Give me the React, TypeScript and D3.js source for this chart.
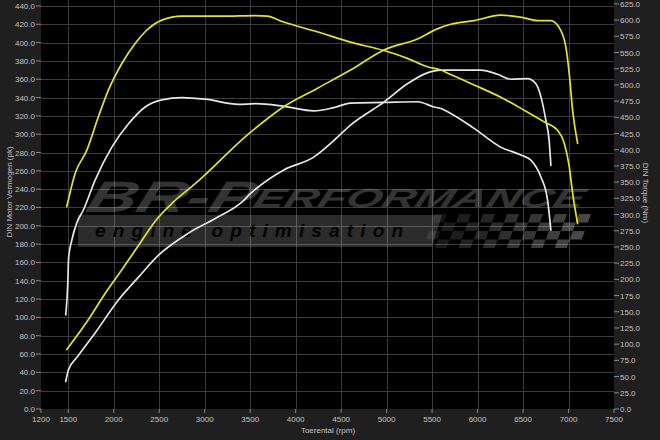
import React from 'react';
import * as d3 from 'd3';

const rpmTicks = [1200, 1500, 2000, 2500, 3000, 3500, 4000, 4500, 5000, 5500, 6000, 6500, 7000, 7500];
const powerTicks = d3.range(0, 441, 20);
const torqueTicks = d3.range(0, 626, 25);

// [rpm, pk]
const tunedPower: [number, number][] = [
  [1483, 65], [1703, 95], [1905, 126], [2089, 152], [2309, 184], [2456, 205], [2657, 226],
  [2896, 246], [3502, 302], [3869, 330], [4236, 350], [4603, 370], [4970, 392], [5338, 404],
  [5558, 415], [5705, 420], [5961, 424], [6255, 430], [6512, 427], [6660, 424], [6806, 424],
  [6916, 413], [6971, 395], [7008, 366], [7045, 326], [7100, 290],
];
const stockPower: [number, number][] = [
  [1472, 30], [1501, 42.5], [1600, 57], [1795, 83], [2051, 119], [2272, 144], [2492, 168],
  [2822, 192], [3116, 208], [3411, 226], [3502, 235], [3869, 261], [4199, 275], [4419, 293],
  [4603, 310], [4970, 335], [5228, 355], [5448, 367], [5595, 370], [5705, 370], [6035, 370],
  [6219, 365.5], [6366, 360], [6549, 360.7], [6641, 355], [6696, 341], [6751, 315], [6787, 293],
  [6806, 266],
];
// [rpm, Nm]
const tunedTorque: [number, number][] = [
  [1483, 312], [1574, 363], [1703, 399], [1831, 451], [1941, 492], [2089, 533], [2235, 564],
  [2345, 582], [2529, 600], [2750, 606], [3190, 606], [3557, 607], [3686, 606], [3869, 597],
  [4236, 582], [4603, 566], [4970, 553], [5228, 541], [5448, 528], [5595, 523], [5705, 516],
  [5961, 500], [6255, 481], [6512, 461], [6732, 443], [6880, 430], [6953, 410], [7008, 374],
  [7045, 333], [7100, 286],
];
const stockTorque: [number, number][] = [
  [1472, 145], [1497, 204], [1503, 232], [1538, 260], [1593, 287], [1666, 307], [1795, 353],
  [1979, 404], [2162, 440], [2345, 466], [2529, 477], [2750, 480.5], [3006, 478], [3373, 470],
  [3557, 471], [3869, 467], [4199, 460], [4419, 465], [4603, 472], [4970, 473], [5338, 474],
  [5521, 466], [5595, 463.5], [5705, 456], [5961, 433], [6255, 404], [6476, 392], [6586, 384],
  [6696, 358], [6770, 322], [6806, 276],
];

const FONT = '"Liberation Sans", Arial, sans-serif';
const TXT = '#c4c4c4';

export default function App() {
  const W = 660, H = 440, L = 41, R = 614, T = 0, B = 409;
  const x = d3.scaleLinear().domain([1200, 7500]).range([L, R]);
  const yP = d3.scaleLinear().domain([0, 446.5]).range([B, T]);
  const yT = d3.scaleLinear().domain([0, 631]).range([B, T]);
  const lineP = d3.line<[number, number]>().x(d => x(d[0])).y(d => yP(d[1])).curve(d3.curveMonotoneX);
  const lineT = d3.line<[number, number]>().x(d => x(d[0])).y(d => yT(d[1])).curve(d3.curveMonotoneX);

  // checkered flag decoration
  const checks: JSX.Element[] = [];
  const cols = 13, rows = 4, cw = 12, ch = 8.5;
  for (let r = 0; r < rows; r++) {
    for (let c = 0; c < cols; c++) {
      if ((r + c) % 2 === 0) {
        const op = 0.08 + 0.2 * (c / (cols - 1));
        checks.push(
          <rect key={`${r}-${c}`} x={c * cw} y={r * ch} width={cw} height={ch} fill="#fff" opacity={op} />
        );
      }
    }
  }

  const yellow = '#e4e42c';
  const white = '#e6e6e6';

  return (
    <svg width={W} height={H} style={{ position: 'absolute', left: 0, top: 0, display: 'block' }}>
      <rect x={0} y={0} width={W} height={H} fill="#1f1f1f" />
      <rect x={L} y={T} width={R - L} height={B - T} fill="#000" />
      {/* grid */}
      <g stroke="#3c3c3c" strokeWidth={1}>
        {rpmTicks.slice(1, -1).map(t => (
          <line key={t} x1={Math.round(x(t)) + 0.5} x2={Math.round(x(t)) + 0.5} y1={T} y2={B} />
        ))}
        {powerTicks.slice(1).map(t => (
          <line key={t} x1={L} x2={R} y1={Math.round(yP(t)) + 0.5} y2={Math.round(yP(t)) + 0.5} />
        ))}
      </g>
      {/* watermark */}
      <g>
        <g transform="translate(84,212) skewX(-18)">
          <text x={0} y={0} fontFamily={FONT} fontWeight={900} fontStyle="italic" fontSize={44}
            fill="#fff" opacity={0.2} textLength={168} lengthAdjust="spacingAndGlyphs">BR-P</text>
        </g>
        <g transform="translate(252,207) skewX(-18)">
          <text x={0} y={0} fontFamily={FONT} fontWeight={900} fontStyle="italic" fontSize={26}
            fill="#fff" opacity={0.2} textLength={330} lengthAdjust="spacingAndGlyphs">ERFORMANCE</text>
        </g>
        <polygon points="78,215 442,215 432,247 78,247" fill="#fff" opacity={0.17} />
        <g transform="translate(95,237)">
          <text x={0} y={0} fontFamily={FONT} fontWeight={700} fontStyle="italic" fontSize={19}
            fill="#000" opacity={0.9} textLength={308} lengthAdjust="spacing">engine optimisation</text>
        </g>
        <g transform="translate(435,214) skewX(-20)">{checks}</g>
      </g>
      {/* curves */}
      <g fill="none" strokeWidth={1.7} strokeLinejoin="round" strokeLinecap="round">
        <path d={lineT(stockTorque) || ''} stroke={white} />
        <path d={lineP(stockPower) || ''} stroke={white} />
        <path d={lineT(tunedTorque) || ''} stroke={yellow} />
        <path d={lineP(tunedPower) || ''} stroke={yellow} />
      </g>
      {/* left axis */}
      <g fontFamily={FONT} fontSize={8} fill={TXT}>
        {powerTicks.map(t => (
          <g key={t}>
            <line x1={36} x2={L} y1={yP(t)} y2={yP(t)} stroke="#8a8a8a" />
            <text x={35} y={yP(t) + 3} textAnchor="end">{d3.format('.1f')(t)}</text>
          </g>
        ))}
        {torqueTicks.map(t => (
          <g key={t}>
            <line x1={R} x2={R + 5} y1={yT(t)} y2={yT(t)} stroke="#8a8a8a" />
            <text x={R + 6} y={yT(t) + 3} textAnchor="start">{d3.format('.1f')(t)}</text>
          </g>
        ))}
        {rpmTicks.map(t => (
          <g key={t}>
            <line x1={x(t)} x2={x(t)} y1={B} y2={B + 4} stroke="#8a8a8a" />
            <text x={x(t)} y={422} textAnchor="middle">{t}</text>
          </g>
        ))}
        <text x={328} y={433} textAnchor="middle">Toerental (rpm)</text>
        <text transform="translate(12,192) rotate(-90)" textAnchor="middle">DIN Motor Vermogen (pk)</text>
        <text transform="translate(643,193) rotate(90)" textAnchor="middle">DIN Torque (Nm)</text>
      </g>
    </svg>
  );
}
